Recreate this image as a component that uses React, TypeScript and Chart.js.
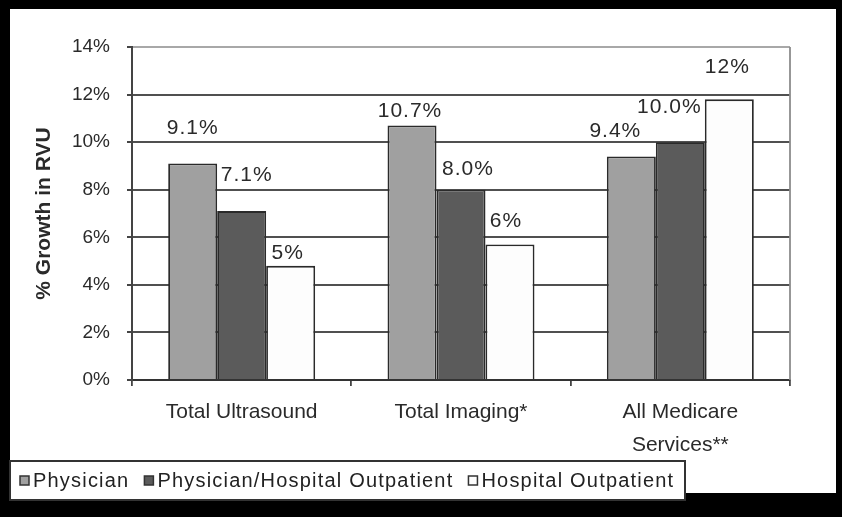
import React, { useEffect, useRef } from 'react';
import { Chart, registerables } from 'chart.js';

Chart.register(...registerables);

// ---- data ----
const categories: (string | string[])[] = ['Total Ultrasound', 'Total Imaging*', ['All Medicare', 'Services**']];
const seriesNames = ['Physician', 'Physician/Hospital Outpatient', 'Hospital Outpatient'];
const physician = [9.1, 10.7, 9.4];
const physicianHospitalOutpatient = [7.1, 8.0, 10.0];
const hospitalOutpatient = [4.8, 5.7, 11.8];
const yTicks = [0, 2, 4, 6, 8, 10, 12, 14];
const labelDecimals = [1, 1, 0];

// ---- style ----
const FONT = "'Liberation Sans', Arial, Helvetica, sans-serif";
const barColors = ['#a0a0a0', '#5b5b5b', '#fdfdfd'];
// per-label nudge relative to the top centre of its bar [dx, dy]
const labelShift: number[][][] = [
  [[0, -35], [-2, -14], [-16, -25]],
  [[5, -36], [7, -21], [-11, -35]],
  [[-3, -13], [-4, -23], [-2, -32]],
];

const framePlugin = {
  id: 'frame',
  beforeDraw(chart: any) {
    const { ctx, width, height } = chart;
    ctx.save();
    ctx.fillStyle = '#000';
    ctx.fillRect(0, 0, width, height);
    ctx.fillStyle = '#fff';
    ctx.fillRect(10, 9, 826, 484);
    ctx.restore();
  },
  beforeDatasetsDraw(chart: any) {
    const { ctx, chartArea: a } = chart;
    ctx.save();
    ctx.strokeStyle = '#8c8c8c';
    ctx.lineWidth = 1.8;
    ctx.beginPath();
    ctx.moveTo(a.right, a.top);
    ctx.lineTo(a.right, a.bottom);
    ctx.stroke();
    ctx.restore();
  },
  afterDatasetsDraw(chart: any) {
    const { ctx } = chart;
    ctx.save();
    ctx.font = `21px ${FONT}`;
    (ctx as any).letterSpacing = '1px';
    ctx.fillStyle = '#2a2a2a';
    ctx.textAlign = 'center';
    ctx.textBaseline = 'middle';
    chart.data.datasets.forEach((ds: any, i: number) => {
      const meta = chart.getDatasetMeta(i);
      meta.data.forEach((el: any, j: number) => {
        const v = ds.data[j] as number;
        const [dx, dy] = labelShift[i][j];
        ctx.fillText(v.toFixed(labelDecimals[i]) + '%', el.x + dx, el.y + dy);
      });
    });
    ctx.restore();
  },
  afterDraw(chart: any) {
    const { ctx } = chart;
    ctx.save();
    const lx = 10, ly = 461, lw = 675, lh = 39;
    ctx.fillStyle = '#fff';
    ctx.fillRect(lx, ly, lw, lh);
    ctx.strokeStyle = '#333';
    ctx.lineWidth = 2;
    ctx.strokeRect(lx, ly, lw, lh);
    ctx.font = `20px ${FONT}`;
    (ctx as any).letterSpacing = '1.2px';
    ctx.textAlign = 'left';
    ctx.textBaseline = 'middle';
    const cy = 481;
    let x = 20;
    chart.data.datasets.forEach((ds: any) => {
      ctx.fillStyle = ds.backgroundColor;
      ctx.fillRect(x, cy - 5, 9, 9);
      ctx.strokeStyle = '#333';
      ctx.lineWidth = 1.5;
      ctx.strokeRect(x, cy - 5, 9, 9);
      x += 13;
      ctx.fillStyle = '#222';
      ctx.fillText(ds.label, x, cy);
      x += ctx.measureText(ds.label).width + 15;
    });
    ctx.restore();
  },
};

export default function App() {
  const canvasRef = useRef<HTMLCanvasElement | null>(null);

  useEffect(() => {
    if (!canvasRef.current) return;
    const seriesValues = [physician, physicianHospitalOutpatient, hospitalOutpatient];
    const chart = new Chart(canvasRef.current, {
      type: 'bar',
      data: {
        labels: categories as any,
        datasets: seriesNames.map((name, i) => ({
          label: name,
          data: seriesValues[i],
          backgroundColor: barColors[i],
          borderColor: '#2a2a2a',
          borderWidth: 1.8,
          categoryPercentage: 0.67,
          barPercentage: 1.0,
        })),
      },
      options: {
        animation: false,
        responsive: true,
        maintainAspectRatio: false,
        layout: { padding: { left: 10, right: 52, top: 47, bottom: 57 } },
        plugins: {
          legend: { display: false },
          tooltip: { enabled: false },
        },
        font: { family: FONT },
        scales: {
          x: {
            type: 'category',
            offset: true,
            afterFit: (s: any) => { s.height = 80; },
            grid: {
              display: true,
              drawOnChartArea: false,
              drawTicks: true,
              tickLength: 6,
              offset: true,
              color: '#444',
              lineWidth: 1.8,
            },
            border: { display: true, color: '#333', width: 2 },
            ticks: {
              color: '#2a2a2a',
              padding: 9.5,
              maxRotation: 0,
              autoSkip: false,
              font: { family: FONT, size: 21, lineHeight: 1.57 },
            },
          },
          y: {
            type: 'linear',
            min: 0,
            max: 14,
            afterBuildTicks: (s: any) => { s.ticks = yTicks.map((v) => ({ value: v })); },
            afterFit: (s: any) => { s.width = 122; },
            grid: {
              color: (c: any) => (c.tick && c.tick.value === 14 ? '#a8a8a8' : '#505050'),
              tickColor: '#444',
              lineWidth: 2,
              tickLength: 5,
            },
            border: { display: true, color: '#444', width: 2 },
            ticks: {
              color: '#2a2a2a',
              padding: 17,
              font: { family: FONT, size: 19 },
              callback: (v: any) => `${v}%`,
            },
            title: {
              display: true,
              text: '% Growth in RVU',
              color: '#2a2a2a',
              font: { family: FONT, size: 21, weight: 'bold' },
              padding: { top: 22, bottom: 0 },
            },
          },
        },
      } as any,
      plugins: [framePlugin],
    });
    return () => chart.destroy();
  }, []);

  return (
    <div style={{ position: 'fixed', left: 0, top: 0, width: 842, height: 517 }}>
      <canvas ref={canvasRef} />
    </div>
  );
}
